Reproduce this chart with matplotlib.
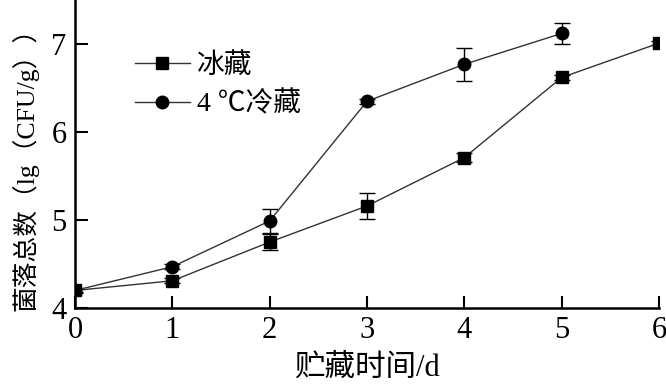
import matplotlib
matplotlib.use("Agg")
from matplotlib import pyplot as plt

# 数据
days = [0, 1, 2, 3, 4, 5, 6]
ice = [4.20, 4.31, 4.75, 5.16, 5.71, 6.62, 7.01]
ice_err = [0.03, 0.03, 0.09, 0.15, 0.05, 0.03, 0.02]
days_4c = [0, 1, 2, 3, 4, 5]
cold = [4.20, 4.47, 4.99, 6.35, 6.77, 7.12]
cold_err = [0.02, 0.03, 0.14, 0.03, 0.19, 0.12]
xticks = [0, 1, 2, 3, 4, 5, 6]
yticks = [4, 5, 6, 7]

plt.rcParams['font.family'] = ['Liberation Serif', 'Noto Sans CJK SC']

fig = plt.figure(figsize=(6.66, 3.88), dpi=100)
ax = fig.add_axes([0.1126, 0.206, 0.877, 0.794])

# 误差线
ax.errorbar(days, ice, yerr=ice_err, fmt='none', ecolor='black',
            elinewidth=1, capsize=6, capthick=1)
ax.errorbar(days_4c, cold, yerr=cold_err, fmt='none', ecolor='black',
            elinewidth=1, capsize=6, capthick=1)
# 折线
ax.plot(days, ice, color='#333333', lw=1, marker='s', ms=9,
        mfc='black', mec='black', label='冰藏')
ax.plot(days_4c, cold, color='#333333', lw=1, marker='o', ms=9,
        mfc='black', mec='black', label='4 ℃冷藏')

ax.set_xlim(0, 6)
ax.set_ylim(4, 7.5)
ax.set_xticks(xticks)
ax.set_yticks(yticks)
ax.tick_params(direction='in', length=9, width=1.5, labelsize=22, pad=6)
ax.spines['top'].set_visible(False)
ax.spines['right'].set_visible(False)
ax.spines['left'].set_linewidth(1.8)
ax.spines['bottom'].set_linewidth(1.8)

ax.set_xlabel('贮藏时间/d', fontsize=22, labelpad=6)
ax.set_ylabel('菌落总数（lg（CFU/g））', fontsize=18.5)
ax.yaxis.set_label_coords(-0.062, 0.47)

leg = ax.legend(loc='upper left', bbox_to_anchor=(0.083, 0.865), frameon=False,
                fontsize=20, handlelength=2.0, handletextpad=0.25,
                labelspacing=0.45, borderaxespad=0)

plt.savefig('out.png', dpi=100)
